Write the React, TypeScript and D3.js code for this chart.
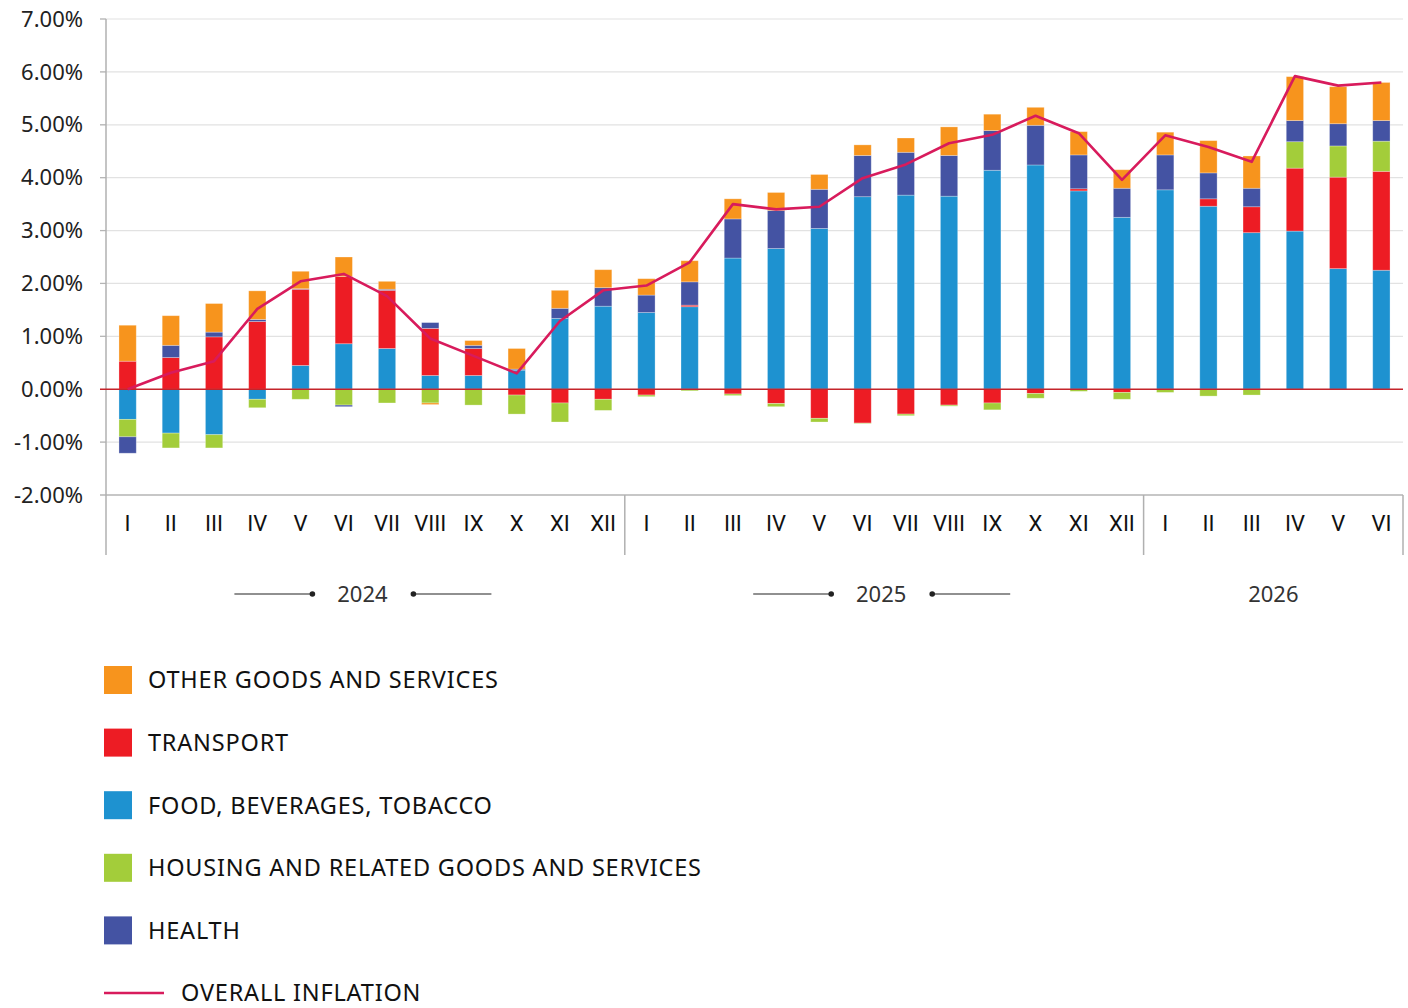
import React, { useEffect, useRef } from 'react';
import * as d3 from 'd3';

const monthNames = ["I", "II", "III", "IV", "V", "VI", "VII", "VIII", "IX", "X", "XI", "XII"];
const years = [
  { year: "2024", months: 12, deco: true },
  { year: "2025", months: 12, deco: true },
  { year: "2026", months: 6, deco: false },
];

// contributions, percentage points
const food = [-0.57, -0.83, -0.86, -0.19, 0.45, 0.86, 0.77, 0.26, 0.26, 0.36, 1.34, 1.57,
  1.45, 1.56, 2.48, 2.66, 3.04, 3.64, 3.67, 3.65, 4.14, 4.24, 3.75, 3.25,
  3.77, 3.46, 2.96, 2.99, 2.28, 2.25];
const transport = [0.53, 0.60, 0.99, 1.28, 1.44, 1.27, 1.10, 0.89, 0.51, -0.11, -0.26, -0.19,
  -0.11, 0.03, -0.09, -0.27, -0.55, -0.64, -0.47, -0.30, -0.26, -0.08, 0.04, -0.06,
  0.0, 0.14, 0.49, 1.19, 1.73, 1.87];
const housing = [-0.33, -0.28, -0.25, -0.16, -0.19, -0.30, -0.26, -0.26, -0.30, -0.36, -0.36, -0.21,
  -0.03, -0.03, -0.03, -0.06, -0.07, -0.01, -0.03, -0.02, -0.13, -0.09, -0.04, -0.13,
  -0.06, -0.13, -0.11, 0.50, 0.59, 0.57];
const health = [-0.31, 0.23, 0.09, 0.04, 0.01, -0.03, 0.02, 0.11, 0.06, 0.02, 0.19, 0.35,
  0.33, 0.44, 0.74, 0.72, 0.74, 0.78, 0.81, 0.77, 0.75, 0.75, 0.64, 0.55,
  0.66, 0.49, 0.35, 0.40, 0.42, 0.39];
const other = [0.68, 0.56, 0.54, 0.54, 0.33, 0.37, 0.15, -0.03, 0.09, 0.39, 0.34, 0.34,
  0.31, 0.40, 0.38, 0.34, 0.28, 0.20, 0.27, 0.54, 0.31, 0.34, 0.44, 0.35,
  0.43, 0.61, 0.61, 0.83, 0.70, 0.72];
const overall = [0.00, 0.31, 0.53, 1.52, 2.04, 2.18, 1.76, 0.96, 0.63, 0.30, 1.29, 1.87,
  1.96, 2.40, 3.50, 3.40, 3.45, 3.99, 4.25, 4.65, 4.81, 5.17, 4.84, 3.96,
  4.80, 4.58, 4.30, 5.92, 5.74, 5.80];

const yTicks = [-2, -1, 0, 1, 2, 3, 4, 5, 6, 7];

const seriesKeys = ["food", "transport", "housing", "health", "other"];
const seriesColors: Record<string, string> = {
  food: "#1e92d0",
  transport: "#ed1c24",
  housing: "#a3cd3a",
  health: "#4453a3",
  other: "#f7941d",
};

const legendItems = [
  { label: "OTHER GOODS AND SERVICES", color: "#f7941d", line: false },
  { label: "TRANSPORT", color: "#ed1c24", line: false },
  { label: "FOOD, BEVERAGES, TOBACCO", color: "#1e92d0", line: false },
  { label: "HOUSING AND RELATED GOODS AND SERVICES", color: "#a3cd3a", line: false },
  { label: "HEALTH", color: "#4453a3", line: false },
  { label: "OVERALL INFLATION", color: "#d81b5c", line: true },
];

const FONT = "'Noto Sans', sans-serif";
const MONTH_FONT = "Roboto, sans-serif";

const App: React.FC = () => {
  const svgRef = useRef<SVGSVGElement>(null);

  useEffect(() => {
    if (!svgRef.current) return;
    const svg = d3.select(svgRef.current);
    svg.selectAll("*").remove();

    const left = 106, right = 1403, top = 19, bottom = 495;

    // category keys
    const cats: { key: string; month: string }[] = [];
    years.forEach(y => {
      for (let i = 0; i < y.months; i++) cats.push({ key: `${y.year}-${monthNames[i]}`, month: monthNames[i] });
    });

    const x = d3.scaleBand().domain(cats.map(c => c.key)).range([left, right]).paddingInner(0.6).paddingOuter(0.3);
    const step = x.step();
    const y = d3.scaleLinear().domain([-2, 7]).range([bottom, top]);

    const rows = cats.map((c, i) => ({
      key: c.key,
      food: food[i], transport: transport[i], housing: housing[i], health: health[i], other: other[i],
    }));

    // gridlines
    const g = svg.append("g");
    yTicks.forEach(t => {
      if (t === 0 || t === -2) return;
      g.append("line")
        .attr("x1", left - 6).attr("x2", right)
        .attr("y1", y(t)).attr("y2", y(t))
        .style("stroke", "#e2e2e2").style("stroke-width", 1.2);
      g.append("line")
        .attr("x1", left - 6).attr("x2", left)
        .attr("y1", y(t)).attr("y2", y(t))
        .style("stroke", "#b5b5b5").style("stroke-width", 1.2);
    });
    yTicks.forEach(t => {
      g.append("text")
        .attr("x", 83).attr("y", y(t))
        .attr("dy", "0.35em")
        .style("text-anchor", "end")
        .style("font-family", FONT)
        .style("font-size", "22px")
        .style("fill", "#222")
        .text(`${t.toFixed(2)}%`);
    });

    // bottom axis line
    g.append("line")
      .attr("x1", left - 6).attr("x2", right)
      .attr("y1", y(-2)).attr("y2", y(-2))
      .style("stroke", "#b5b5b5").style("stroke-width", 1.5);

    // left axis
    g.append("line")
      .attr("x1", left).attr("x2", left)
      .attr("y1", top).attr("y2", 555)
      .style("stroke", "#b0b0b0").style("stroke-width", 1.5);

    // stacked bars
    const stack = d3.stack<any>().keys(seriesKeys).offset(d3.stackOffsetDiverging);
    const stacked = stack(rows);
    stacked.forEach(layer => {
      g.append("g")
        .selectAll("rect")
        .data(layer)
        .join("rect")
        .attr("x", d => x((d as any).data.key)!)
        .attr("width", x.bandwidth())
        .attr("y", d => y(Math.max(d[0], d[1])))
        .attr("height", d => Math.abs(y(d[0]) - y(d[1])))
        .style("fill", seriesColors[layer.key])
        .style("stroke", "#ffffff")
        .style("stroke-opacity", 0.35)
        .style("stroke-width", 0.8);
    });

    // zero line
    g.append("line")
      .attr("x1", left - 6).attr("x2", right)
      .attr("y1", y(0)).attr("y2", y(0))
      .style("stroke", "#c4242b").style("stroke-width", 1.5);

    // overall inflation line
    const line = d3.line<number>()
      .x((_, i) => x(cats[i].key)! + x.bandwidth() / 2)
      .y(d => y(d));
    g.append("path")
      .datum(overall)
      .attr("d", line)
      .style("fill", "none")
      .style("stroke", "#d81b5c")
      .style("stroke-width", 2.6)
      .style("stroke-linejoin", "round");

    // month labels
    cats.forEach(c => {
      g.append("text")
        .attr("x", x(c.key)! + x.bandwidth() / 2)
        .attr("y", 523)
        .attr("dy", "0.35em")
        .style("text-anchor", "middle")
        .style("font-family", MONTH_FONT)
        .style("font-size", "22px")
        .style("fill", "#111")
        .text(c.month);
    });

    // year groups
    let start = 0;
    years.forEach(yr => {
      const x0 = left + step * start;
      const x1 = left + step * (start + yr.months);
      g.append("line")
        .attr("x1", x1).attr("x2", x1)
        .attr("y1", bottom).attr("y2", 555)
        .style("stroke", "#b0b0b0").style("stroke-width", 1.5);
      const cx = (x0 + x1) / 2 + (yr.deco ? -3 : 0);
      g.append("text")
        .attr("x", cx).attr("y", 594)
        .attr("dy", "0.35em")
        .style("text-anchor", "middle")
        .style("font-family", FONT)
        .style("font-size", "22px")
        .style("fill", "#333")
        .text(yr.year);
      if (yr.deco) {
        const ly = 594;
        g.append("line").attr("x1", cx - 128).attr("x2", cx - 50).attr("y1", ly).attr("y2", ly)
          .style("stroke", "#222").style("stroke-width", 1.2);
        g.append("circle").attr("cx", cx - 50).attr("cy", ly).attr("r", 2.8).style("fill", "#222");
        g.append("line").attr("x1", cx + 51).attr("x2", cx + 129).attr("y1", ly).attr("y2", ly)
          .style("stroke", "#222").style("stroke-width", 1.2);
        g.append("circle").attr("cx", cx + 51).attr("cy", ly).attr("r", 2.8).style("fill", "#222");
      }
      start += yr.months;
    });

    // legend
    const lg = svg.append("g");
    legendItems.forEach((item, i) => {
      const cy = 680 + i * 62.6;
      if (item.line) {
        lg.append("line")
          .attr("x1", 104).attr("x2", 164)
          .attr("y1", cy).attr("y2", cy)
          .style("stroke", item.color).style("stroke-width", 2.6);
      } else {
        lg.append("rect")
          .attr("x", 104).attr("y", cy - 14)
          .attr("width", 28).attr("height", 28)
          .style("fill", item.color);
      }
      lg.append("text")
        .attr("x", item.line ? 181 : 148)
        .attr("y", cy)
        .attr("dy", "0.36em")
        .style("font-family", FONT)
        .style("font-size", "23.5px")
        .style("letter-spacing", "0.8px")
        .style("fill", "#111")
        .text(item.label);
    });
  }, []);

  return (
    <svg
      ref={svgRef}
      width={1408}
      height={1008}
      style={{ position: "absolute", left: 0, top: 0, background: "#fff" }}
    />
  );
};

export default App;
